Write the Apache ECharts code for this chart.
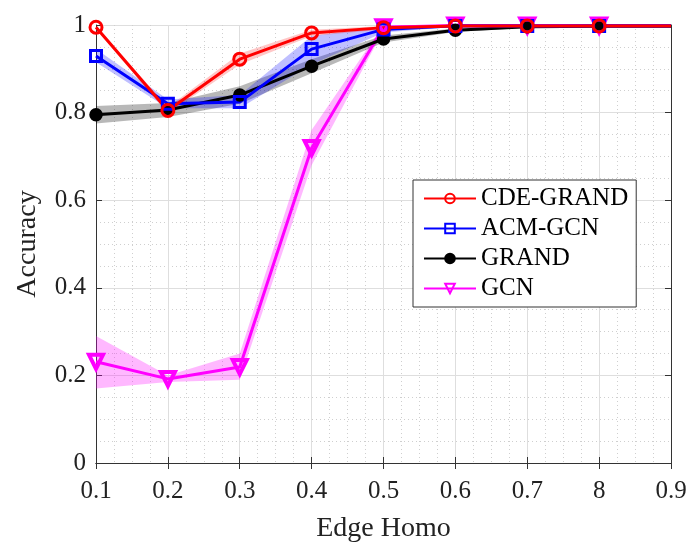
<!DOCTYPE html>
<html>
<head>
<meta charset="utf-8">
<script src="https://cdn.jsdelivr.net/npm/echarts@6/dist/echarts.min.js"></script>
<style>
  html, body { margin: 0; padding: 0; background: #fff; }
  #chart { width: 697px; height: 549px; }
</style>
</head>
<body>
<div id="chart"></div>
<script>
// x 位置与刻度文字（原图中 0.8 处写作 "8"）
var xValues = [0.1, 0.2, 0.3, 0.4, 0.5, 0.6, 0.7, 0.8, 0.9];
var xLabels = ["0.1", "0.2", "0.3", "0.4", "0.5", "0.6", "0.7", "8", "0.9"];

// 各方法均值及上下界
var cdeMean  = [0.995, 0.805, 0.922, 0.982, 0.994, 0.998, 0.998, 0.998, 0.998];
var cdeLow   = [0.990, 0.798, 0.910, 0.975, 0.990, 0.996, 0.997, 0.997, 0.997];
var cdeHigh  = [0.999, 0.812, 0.935, 0.989, 0.998, 1.000, 0.999, 0.999, 0.999];

var acmMean  = [0.929, 0.820, 0.824, 0.945, 0.990, 0.998, 0.998, 0.998, 0.998];
var acmLow   = [0.915, 0.810, 0.810, 0.910, 0.983, 0.996, 0.997, 0.997, 0.997];
var acmHigh  = [0.945, 0.830, 0.840, 0.975, 0.996, 1.000, 0.999, 0.999, 0.999];

var grandMean = [0.795, 0.806, 0.840, 0.906, 0.968, 0.988, 0.996, 0.997, 0.997];
var grandLow  = [0.775, 0.790, 0.820, 0.890, 0.960, 0.984, 0.994, 0.996, 0.996];
var grandHigh = [0.815, 0.822, 0.860, 0.922, 0.976, 0.992, 0.998, 0.998, 0.998];

var gcnMean  = [0.231, 0.192, 0.219, 0.719, 0.995, 0.999, 0.999, 0.999, 0.999];
var gcnLow   = [0.170, 0.185, 0.190, 0.680, 0.988, 0.998, 0.998, 0.998, 0.998];
var gcnHigh  = [0.290, 0.200, 0.250, 0.760, 1.000, 1.000, 1.000, 1.000, 1.000];

var yTicks = [0, 0.2, 0.4, 0.6, 0.8, 1];

var fontFam = "Liberation Serif";

function points(vals, hideLast) {
  return vals.map(function (v, i) {
    var item = { value: [xValues[i], v] };
    if (hideLast && i === vals.length - 1) item.symbol = "none";
    return item;
  });
}

// 阴影带：用 custom 系列画一个多边形（上界正向 + 下界反向）
function bandSeries(low, high, color) {
  return {
    type: "custom", z: 1, silent: true,
    data: xValues.map(function (x, i) { return [x, low[i], high[i]]; }),
    renderItem: function (params, api) {
      if (params.dataIndex !== 0) return null;
      var pts = [];
      for (var i = 0; i < xValues.length; i++) pts.push(api.coord([xValues[i], high[i]]));
      for (var j = xValues.length - 1; j >= 0; j--) pts.push(api.coord([xValues[j], low[j]]));
      return { type: "polygon", shape: { points: pts }, style: { fill: color } };
    }
  };
}

function mainSeries(name, vals, color, symbol, size, hollow, bw, extra) {
  var s = {
    name: name, type: "line", z: 5,
    symbol: symbol, symbolSize: size,
    lineStyle: { color: color, width: 3 },
    itemStyle: { color: hollow ? "rgba(255,255,255,0)" : color, borderColor: color, borderWidth: bw },
    data: points(vals, true)
  };
  return Object.assign(s, extra || {});
}

var chartDom = document.getElementById("chart");
var myChart = echarts.init(chartDom);

var axisColor = "#333";

var option = {
  backgroundColor: "#fff",
  animation: false,
  grid: { left: 96, right: 26, top: 25, bottom: 86, outerBoundsMode: "none" },
  legend: {
    data: ["CDE-GRAND", "ACM-GCN", "GRAND", "GCN"],
    orient: "vertical",
    left: 413, top: 180,
    itemWidth: 52, itemHeight: 12, itemGap: 5,
    padding: [6, 8, 6, 10],
    backgroundColor: "#fff",
    borderColor: "#333", borderWidth: 1,
    textStyle: { fontFamily: fontFam, fontSize: 25, color: "#000" }
  },
  xAxis: [
    {
      type: "value", min: 0.1, max: 0.9, interval: 0.1,
      name: "Edge Homo", nameLocation: "middle", nameGap: 52,
      nameTextStyle: { fontFamily: fontFam, fontSize: 28, color: "#222" },
      axisLine: { lineStyle: { color: axisColor, width: 1 } },
      axisTick: { inside: true, length: 6, lineStyle: { color: axisColor } },
      axisLabel: {
        fontFamily: fontFam, fontSize: 25, color: "#222", margin: 16,
        formatter: function (v) {
          var i = Math.round((v - 0.1) * 10);
          return xLabels[i] !== undefined ? xLabels[i] : "";
        }
      },
      splitLine: { show: true, lineStyle: { color: "#dedede", width: 1 } },
      minorTick: { show: false, splitNumber: 4 },
      minorSplitLine: { show: true, lineStyle: { color: "#cfcfcf", type: [1, 3], width: 1 } }
    },
    {
      type: "value", min: 0.1, max: 0.9, interval: 0.1, position: "top",
      axisLine: { show: true, lineStyle: { color: axisColor, width: 1 } },
      axisTick: { inside: true, length: 6, lineStyle: { color: axisColor } },
      axisLabel: { show: false },
      splitLine: { show: false }
    }
  ],
  yAxis: [
    {
      type: "value", min: 0, max: 1, interval: 0.2,
      name: "Accuracy", nameLocation: "middle", nameGap: 54,
      nameTextStyle: { fontFamily: fontFam, fontSize: 28, color: "#222" },
      axisLine: { show: true, lineStyle: { color: axisColor, width: 1 } },
      axisTick: { show: true, inside: true, length: 6, lineStyle: { color: axisColor } },
      axisLabel: {
        fontFamily: fontFam, fontSize: 25, color: "#222", margin: 10,
        formatter: function (v) {
          var t = yTicks.filter(function (k) { return Math.abs(k - v) < 1e-9; });
          return t.length ? String(t[0]) : "";
        }
      },
      splitLine: { show: true, lineStyle: { color: "#dedede", width: 1 } },
      minorTick: { show: false, splitNumber: 4 },
      minorSplitLine: { show: true, lineStyle: { color: "#cfcfcf", type: [1, 3], width: 1 } }
    },
    {
      type: "value", min: 0, max: 1, interval: 0.2, position: "right",
      axisLine: { show: true, lineStyle: { color: axisColor, width: 1 } },
      axisTick: { show: true, inside: true, length: 6, lineStyle: { color: axisColor } },
      axisLabel: { show: false },
      splitLine: { show: false }
    }
  ],
  series: [
    bandSeries(gcnLow, gcnHigh, "rgba(255,0,255,0.28)"),
    bandSeries(grandLow, grandHigh, "rgba(0,0,0,0.28)"),
    bandSeries(acmLow, acmHigh, "rgba(0,0,255,0.25)"),
    bandSeries(cdeLow, cdeHigh, "rgba(255,0,0,0.22)"),
    mainSeries("GCN", gcnMean, "#ff00ff", "triangle", 14, true, 4, { symbolRotate: 180 }),
    mainSeries("GRAND", grandMean, "#000000", "circle", 11, false, 2.5),
    mainSeries("ACM-GCN", acmMean, "#0000ff", "rect", 11, true, 3),
    mainSeries("CDE-GRAND", cdeMean, "#ff0000", "circle", 12, true, 3)
  ]
};

myChart.setOption(option);

window.addEventListener("resize", function () {
  myChart.resize();
});
</script>
</body>
</html>
